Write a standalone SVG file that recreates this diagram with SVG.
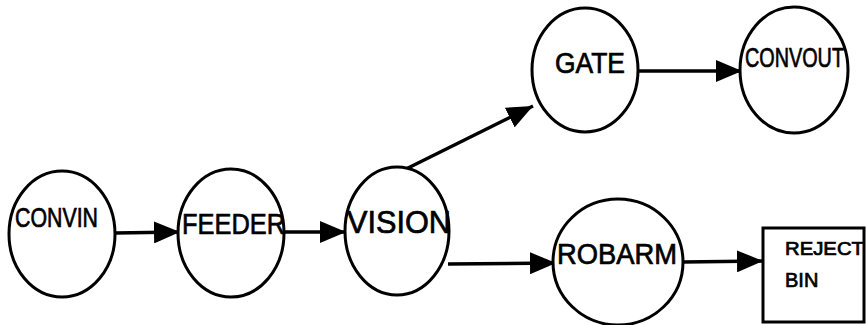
<svg xmlns="http://www.w3.org/2000/svg" width="866" height="325" viewBox="0 0 866 325">
<style>
.n{fill:#fff;stroke:#000;stroke-width:3}
.t{font-family:"Liberation Sans",Arial,sans-serif;fill:#000;stroke:#000;stroke-width:0.7}
.c{stroke:#000;stroke-width:3.4;fill:none}
</style>
<defs>
<marker id="ah" markerWidth="26" markerHeight="22" refX="26" refY="11" orient="auto" markerUnits="userSpaceOnUse">
<path d="M0,0 L26,11 L0,22 Z" fill="#000"/>
</marker>
</defs>
<rect width="866" height="325" fill="#fff"/>
<g id="connectors">
<line class="c" x1="115" y1="233" x2="180" y2="232" marker-end="url(#ah)"/>
<line class="c" x1="284" y1="232" x2="346" y2="232" marker-end="url(#ah)"/>
<line class="c" x1="404" y1="170" x2="533" y2="106" marker-end="url(#ah)"/>
<line class="c" x1="448" y1="264" x2="556" y2="263" marker-end="url(#ah)"/>
<line class="c" x1="638" y1="71" x2="742" y2="71" marker-end="url(#ah)"/>
<line class="c" x1="683" y1="262" x2="763" y2="261" marker-end="url(#ah)"/>
</g>
<g id="CONVIN">
<ellipse class="n" cx="62" cy="234" rx="53" ry="63"/>
<text class="t" x="15" y="227" font-size="28" textLength="83" lengthAdjust="spacingAndGlyphs">CONVIN</text>
</g>
<g id="FEEDER">
<ellipse class="n" cx="231" cy="233" rx="53" ry="64"/>
<text class="t" x="182" y="234" font-size="30" textLength="103" lengthAdjust="spacingAndGlyphs">FEEDER</text>
</g>
<g id="VISION">
<ellipse class="n" cx="397" cy="231" rx="52" ry="64"/>
<text class="t" x="347" y="233" font-size="32" textLength="104" lengthAdjust="spacingAndGlyphs">VISION</text>
</g>
<g id="GATE">
<ellipse class="n" cx="585" cy="70" rx="53" ry="62"/>
<text class="t" x="555" y="73" font-size="29" textLength="70" lengthAdjust="spacingAndGlyphs">GATE</text>
</g>
<g id="CONVOUT">
<ellipse class="n" cx="794" cy="70" rx="54" ry="63"/>
<text class="t" x="745" y="67" font-size="27" textLength="99" lengthAdjust="spacingAndGlyphs">CONVOUT</text>
</g>
<g id="ROBARM">
<ellipse class="n" cx="618" cy="262" rx="65" ry="63"/>
<text class="t" x="557" y="264" font-size="29" textLength="120" lengthAdjust="spacingAndGlyphs">ROBARM</text>
</g>
<g id="REJECT_BIN">
<rect class="n" x="763" y="228" width="101" height="94"/>
<text class="t" x="785" y="255" font-size="18" textLength="79" lengthAdjust="spacingAndGlyphs" stroke-width="0.4">REJECT</text>
<text class="t" x="785" y="287" font-size="20" stroke-width="0.4">BIN</text>
</g>
</svg>
